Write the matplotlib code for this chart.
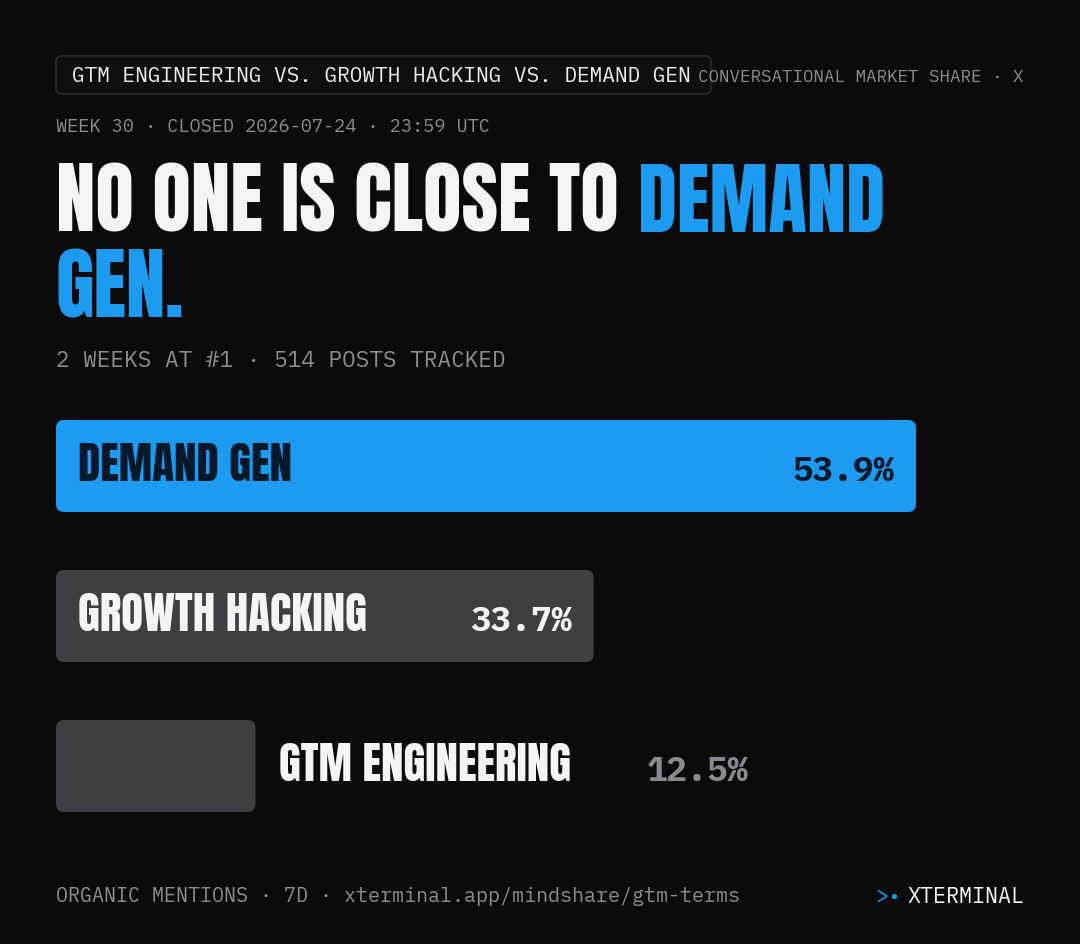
import matplotlib
matplotlib.use("Agg")
import matplotlib.pyplot as plt
from matplotlib.patches import FancyBboxPatch

# data
terms = ["DEMAND GEN", "GROWTH HACKING", "GTM ENGINEERING"]
shares = [53.9, 33.7, 12.5]
value_labels = ["53.9%", "33.7%", "12.5%"]

pill_title = "GTM ENGINEERING VS. GROWTH HACKING VS. DEMAND GEN"
kicker = "CONVERSATIONAL MARKET SHARE · X"
week_line = "WEEK 30 · CLOSED 2026-07-24 · 23:59 UTC"
headline_white = "NO ONE IS CLOSE TO"
headline_blue_1 = "DEMAND"
headline_blue_2 = "GEN."
subtitle = "2 WEEKS AT #1 · 514 POSTS TRACKED"
footer = "ORGANIC MENTIONS · 7D · xterminal.app/mindshare/gtm-terms"
brand = "XTERMINAL"

BG = "#0b0b0b"
BLUE = "#1d9bf0"
BAR_GRAY = "#3e3f44"
TXT_GRAY = "#8c8c92"
WHITE = "#f4f4f4"
DARK = "#06192b"
MONO = "IBM Plex Mono"
DISPLAY = "Anton"

fig = plt.figure(figsize=(10.8, 9.44), dpi=100)
fig.patch.set_facecolor(BG)
ax = fig.add_axes([0, 0, 1, 1])
ax.set_xlim(0, 1080)
ax.set_ylim(944, 0)
ax.axis("off")
ax.set_facecolor(BG)

renderer = fig.canvas.get_renderer()
inv = ax.transData.inverted()


def right_edge(t):
    bb = t.get_window_extent(renderer)
    return inv.transform((bb.x1, bb.y1))[0]


# header pill
ax.add_patch(FancyBboxPatch((56, 56), 655, 38, boxstyle="round,pad=0,rounding_size=6",
                            facecolor="#0f0f10", edgecolor="#2b2b2f", linewidth=1.2))
ax.text(72, 76, pill_title, family=MONO, fontsize=15.2, color="#ececec", va="center", ha="left")
ax.text(1024, 77, kicker, family=MONO, fontsize=12.6, color=TXT_GRAY, va="center", ha="right")
ax.text(56, 127, week_line, family=MONO, fontsize=13.4, color=TXT_GRAY, va="center", ha="left")

# headline
hw = ax.text(56, 232, headline_white, family=DISPLAY, fontsize=57, color=WHITE,
             va="baseline", ha="left")
ax.text(right_edge(hw) + 19, 232, headline_blue_1, family=DISPLAY, fontsize=57, color=BLUE,
        va="baseline", ha="left")
ax.text(56, 318, headline_blue_2, family=DISPLAY, fontsize=57, color=BLUE,
        va="baseline", ha="left")

ax.text(56, 361, subtitle, family=MONO, fontsize=16.3, color=TXT_GRAY, va="center", ha="left")

# bars
x0 = 56
full_w = 860
bar_h = 92
tops = [420, 570, 720]
vmax = max(shares)
for i, (term, val, lab) in enumerate(zip(terms, shares, value_labels)):
    w = val / vmax * full_w
    top = tops[i]
    color = BLUE if i == 0 else BAR_GRAY
    ax.add_patch(FancyBboxPatch((x0, top), w, bar_h, boxstyle="round,pad=0,rounding_size=8",
                                facecolor=color, edgecolor="none"))
    base = top + bar_h / 2 + 15
    if w > 400:
        tc = DARK if i == 0 else WHITE
        ax.text(x0 + 22, base, term, family=DISPLAY, fontsize=32.3, color=tc,
                va="baseline", ha="left")
        ax.text(x0 + w - 22, base, lab, family=MONO, fontweight="bold", fontsize=24.5,
                color=tc, va="baseline", ha="right")
    else:
        t = ax.text(x0 + w + 24, base, term, family=DISPLAY, fontsize=32.3, color=WHITE,
                    va="baseline", ha="left")
        ax.text(right_edge(t) + 75, base, lab, family=MONO, fontweight="bold", fontsize=24.5,
                color="#878a93", va="baseline", ha="left")

# footer
ax.text(56, 897, footer, family=MONO, fontsize=14.45, color=TXT_GRAY, va="center", ha="left")
ax.text(1024, 897, brand, family=MONO, fontsize=15.6, color=WHITE, va="center", ha="right")
ax.text(901, 897, ">•", family=MONO, fontsize=15.6, color=BLUE, va="center", ha="right")

fig.savefig("out.png", dpi=100, facecolor=BG)
